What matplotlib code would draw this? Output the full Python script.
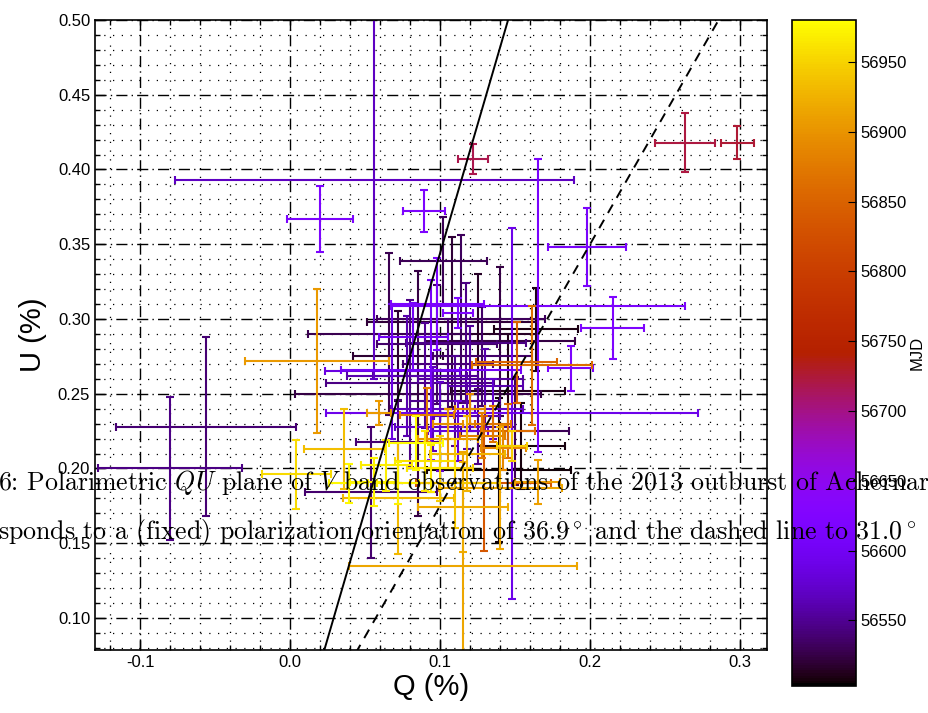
import matplotlib
matplotlib.use("Agg")
import matplotlib.pyplot as plt
import numpy as np
from matplotlib.ticker import MultipleLocator
from matplotlib.colors import Normalize
from matplotlib.cm import ScalarMappable

plt.rcParams['font.family'] = ['Liberation Sans', 'DejaVu Sans']
plt.rcParams['mathtext.fontset'] = 'cm'

# QU measurements (%), symmetric error, and MJD of each observation
q_pct = [0.056, 0.020, 0.089, 0.122, 0.263, 0.298, 0.198, 0.165, 0.148, 0.215,
         0.018, -0.080, -0.056, 0.004, 0.036, 0.054, 0.039, 0.115, 0.066, 0.085,
         0.108, 0.114, 0.125, 0.140, 0.098, 0.117, 0.164, 0.102, 0.161, 0.151,
         0.187, 0.139, 0.154, 0.145, 0.150, 0.142, 0.129, 0.165, 0.084, 0.072,
         0.064, 0.098, 0.112, 0.082, 0.094, 0.090, 0.105, 0.120, 0.110, 0.130,
         0.095, 0.118, 0.072, 0.128, 0.100, 0.135, 0.078, 0.112, 0.125, 0.068,
         0.105, 0.118, 0.128, 0.100, 0.110, 0.090, 0.135, 0.120, 0.145, 0.072,
         0.115, 0.148, 0.059, 0.091, 0.105, 0.056, 0.094, 0.072, 0.080, 0.140]
u_pct = [0.393, 0.367, 0.372, 0.407, 0.418, 0.418, 0.348, 0.309, 0.237, 0.294,
         0.272, 0.200, 0.228, 0.196, 0.213, 0.184, 0.190, 0.135, 0.290, 0.250,
         0.298, 0.300, 0.290, 0.285, 0.283, 0.284, 0.293, 0.339, 0.269, 0.271,
         0.267, 0.199, 0.215, 0.252, 0.225, 0.214, 0.190, 0.191, 0.217, 0.190,
         0.202, 0.310, 0.304, 0.288, 0.266, 0.262, 0.270, 0.260, 0.245, 0.255,
         0.240, 0.235, 0.275, 0.275, 0.228, 0.240, 0.262, 0.225, 0.228, 0.265,
         0.220, 0.210, 0.222, 0.200, 0.190, 0.205, 0.230, 0.240, 0.225, 0.180,
         0.174, 0.215, 0.237, 0.236, 0.230, 0.191, 0.200, 0.218, 0.257, 0.187]
err_pct = [0.133, 0.022, 0.014, 0.010, 0.020, 0.011, 0.026, 0.098, 0.124, 0.021,
           0.048, 0.048, 0.060, 0.023, 0.027, 0.044, 0.013, 0.076, 0.054, 0.082,
           0.057, 0.056, 0.040, 0.050, 0.040, 0.040, 0.028, 0.029, 0.040, 0.027,
           0.015, 0.048, 0.029, 0.038, 0.036, 0.015, 0.045, 0.015, 0.018, 0.014,
           0.017, 0.031, 0.010, 0.023, 0.060, 0.035, 0.030, 0.035, 0.030, 0.025,
           0.028, 0.022, 0.030, 0.033, 0.030, 0.020, 0.040, 0.020, 0.025, 0.045,
           0.020, 0.025, 0.015, 0.022, 0.030, 0.020, 0.012, 0.010, 0.018, 0.037,
           0.030, 0.010, 0.008, 0.018, 0.010, 0.016, 0.016, 0.028, 0.056, 0.041]
mjd = [56570, 56615, 56618, 56718, 56722, 56725, 56612, 56612, 56592, 56620,
       56905, 56545, 56540, 56955, 56935, 56538, 56975, 56915, 56528, 56525,
       56520, 56532, 56515, 56524, 56535, 56545, 56510, 56530, 56862, 56850,
       56615, 56506, 56508, 56512, 56530, 56890, 56835, 56910, 56978, 56970,
       56968, 56615, 56620, 56600, 56605, 56550, 56540, 56555, 56548, 56560,
       56565, 56560, 56518, 56535, 56572, 56575, 56560, 56580, 56545, 56585,
       56900, 56925, 56880, 56945, 56940, 56960, 56870, 56890, 56860, 56930,
       56920, 56945, 56905, 56880, 56895, 56972, 56965, 56540, 56545, 56915]

# slopes of the constant-angle lines (U = slope * Q)
solid_slope = 3.44
dashed_slope = 1.75

fig = plt.figure(figsize=(9.29, 7.13), dpi=100)
ax = fig.add_axes([0.1023, 0.0884, 0.7234, 0.8836])
cax = fig.add_axes([0.8525, 0.0379, 0.0689, 0.934])

cmap = plt.get_cmap('gnuplot')
norm = Normalize(vmin=56503, vmax=56980)

order = np.argsort(mjd)
for i in order:
    ax.errorbar(q_pct[i], u_pct[i], xerr=err_pct[i], yerr=err_pct[i], fmt='none',
                ecolor=cmap(norm(mjd[i])), elinewidth=1.5, capsize=3, capthick=1.5)

qq = np.array([-0.13, 0.32])
ax.plot(qq, solid_slope * qq, color='black', lw=1.4)
ax.plot(qq, dashed_slope * qq, color='black', lw=1.4, ls=(0, (5, 4)))

ax.set_xlim(-0.13, 0.318)
ax.set_ylim(0.0786, 0.5)

ax.xaxis.set_major_locator(MultipleLocator(0.1))
ax.xaxis.set_minor_locator(MultipleLocator(0.02))
ax.yaxis.set_major_locator(MultipleLocator(0.05))
ax.yaxis.set_minor_locator(MultipleLocator(0.01))
ax.grid(which='major', color='black', lw=1.0, ls=(0, (8, 3, 1, 3)))
ax.grid(which='minor', color='black', lw=0.9, ls=(0, (1, 6)))
ax.set_axisbelow(True)

ax.tick_params(which='both', direction='in', top=True, right=True, labelsize=12)
ax.tick_params(which='major', length=7, width=1)
ax.tick_params(which='minor', length=3.5, width=1)
for s in ax.spines.values():
    s.set_linewidth(1.2)

ax.xaxis.set_major_formatter(plt.FuncFormatter(lambda v, p: f"{v:.1f}"))
ax.yaxis.set_major_formatter(plt.FuncFormatter(lambda v, p: f"{v:.2f}"))
ax.set_xlabel("Q (%)", fontsize=21, labelpad=2)
ax.set_ylabel("U (%)", fontsize=21, labelpad=8)

sm = ScalarMappable(norm=norm, cmap=cmap)
cb = fig.colorbar(sm, cax=cax)
cb.set_ticks(np.arange(56550, 56951, 50))
cb.ax.tick_params(direction='in', length=6, labelsize=12)
cb.set_label("MJD", fontsize=12, labelpad=2)
cb.outline.set_linewidth(1.2)

# caption text bleeding over the figure
fig.text(-0.002, 0.313,
         r"$\mathit{6}$: Polarimetric $QU$ plane of $V$ band observations "
         r"of the 2013 outburst of Achernar",
         family='cmr10', fontsize=18.6, ha='left', va='baseline', zorder=10)
fig.text(-0.002, 0.244,
         r"sponds to a (fixed) polarization orientation of 36.9$^\circ$ "
         r"and the dashed line to 31.0$^\circ$",
         family='cmr10', fontsize=18.6, ha='left', va='baseline', zorder=10)

fig.savefig("out.png", dpi=100)
